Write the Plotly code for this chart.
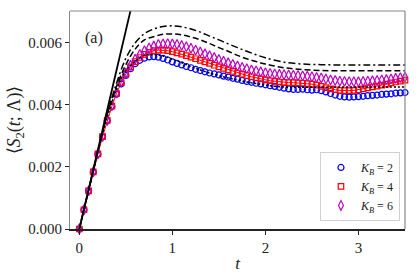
import plotly.graph_objects as go

# ---------------- data ----------------
t_markers = [round(0.05 * i, 2) for i in range(71)]

s2_kb2 = [0, 0.00062, 0.00123, 0.00184, 0.00242, 0.00298, 0.00350, 0.00395, 0.00435, 0.00468,
          0.00495, 0.00517, 0.00533, 0.00544, 0.00551, 0.00555, 0.00556, 0.00554, 0.00550, 0.00545,
          0.00539, 0.00534, 0.00529, 0.00524, 0.00520, 0.00515, 0.00511, 0.00507, 0.00503, 0.00500,
          0.00497, 0.00493, 0.00490, 0.00486, 0.00483, 0.00479, 0.00476, 0.00473, 0.00470, 0.00468,
          0.00465, 0.00462, 0.00460, 0.00457, 0.00454, 0.00452, 0.00450, 0.00450, 0.00451, 0.00449,
          0.00448, 0.00449, 0.00446, 0.00442, 0.00437, 0.00432, 0.00428, 0.00426, 0.00425, 0.00426,
          0.00427, 0.00428, 0.00430, 0.00431, 0.00432, 0.00434, 0.00435, 0.00436, 0.00438, 0.00439,
          0.00440]

s2_kb4 = [0, 0.00062, 0.00123, 0.00184, 0.00242, 0.00298, 0.00350, 0.00396, 0.00437, 0.00472,
          0.00500, 0.00523, 0.00540, 0.00553, 0.00563, 0.00570, 0.00575, 0.00577, 0.00577, 0.00575,
          0.00572, 0.00568, 0.00564, 0.00559, 0.00554, 0.00549, 0.00544, 0.00539, 0.00534, 0.00528,
          0.00523, 0.00518, 0.00513, 0.00508, 0.00503, 0.00499, 0.00495, 0.00491, 0.00487, 0.00484,
          0.00481, 0.00478, 0.00476, 0.00474, 0.00473, 0.00472, 0.00472, 0.00471, 0.00470, 0.00469,
          0.00467, 0.00464, 0.00460, 0.00456, 0.00452, 0.00449, 0.00447, 0.00446, 0.00446, 0.00447,
          0.00449, 0.00452, 0.00455, 0.00458, 0.00461, 0.00464, 0.00467, 0.00471, 0.00474, 0.00477,
          0.00480]

s2_kb6 = [0, 0.00062, 0.00123, 0.00184, 0.00242, 0.00298, 0.00350, 0.00397, 0.00438, 0.00474,
          0.00503, 0.00528, 0.00548, 0.00563, 0.00575, 0.00584, 0.00590, 0.00595, 0.00597, 0.00598,
          0.00597, 0.00595, 0.00592, 0.00588, 0.00583, 0.00577, 0.00571, 0.00565, 0.00559, 0.00553,
          0.00547, 0.00541, 0.00536, 0.00531, 0.00526, 0.00521, 0.00517, 0.00513, 0.00510, 0.00507,
          0.00504, 0.00502, 0.00500, 0.00499, 0.00498, 0.00497, 0.00496, 0.00495, 0.00494, 0.00493,
          0.00491, 0.00489, 0.00487, 0.00484, 0.00481, 0.00479, 0.00477, 0.00476, 0.00475, 0.00475,
          0.00475, 0.00476, 0.00477, 0.00478, 0.00479, 0.00481, 0.00482, 0.00484, 0.00486, 0.00488,
          0.00490]

t_curves = [0, 0.1, 0.2, 0.3, 0.4, 0.5, 0.6, 0.7, 0.8, 0.9, 1.0, 1.1, 1.2, 1.3, 1.4, 1.5,
            1.6, 1.7, 1.8, 1.9, 2.0, 2.2, 2.4, 2.6, 2.8, 3.0, 3.2, 3.5]
s2_dashdot = [0, 0.00125, 0.00250, 0.00370, 0.00470, 0.00550, 0.00600, 0.00630, 0.00645, 0.00653,
              0.00655, 0.00652, 0.00645, 0.00635, 0.00622, 0.00610, 0.00597, 0.00585, 0.00573, 0.00562,
              0.00552, 0.00538, 0.00532, 0.00530, 0.00529, 0.00529, 0.00529, 0.00529]
s2_dashed = [0, 0.00125, 0.00250, 0.00370, 0.00460, 0.00530, 0.00580, 0.00610, 0.00620, 0.00628,
             0.00629, 0.00626, 0.00619, 0.00610, 0.00598, 0.00585, 0.00573, 0.00560, 0.00549, 0.00540,
             0.00532, 0.00520, 0.00514, 0.00511, 0.00510, 0.00510, 0.00510, 0.00510]
s2_dotted = [0, 0.00125, 0.00250, 0.00360, 0.00450, 0.00510, 0.00540, 0.00560, 0.00562, 0.00558,
             0.00548, 0.00536, 0.00524, 0.00513, 0.00503, 0.00494, 0.00487, 0.00480, 0.00474, 0.00469,
             0.00464, 0.00458, 0.00457, 0.00457, 0.00458, 0.00458, 0.00458, 0.00458]

t_linear = [0, 0.6]
s2_linear = [0, 0.00768]

x_ticks = [0, 1, 2, 3]
y_ticks = [0.000, 0.002, 0.004, 0.006]
y_tick_labels = ["0.000", "0.002", "0.004", "0.006"]

FONT = "Liberation Serif"

fig = go.Figure()

# red connecting line (K_B = 4)
fig.add_trace(go.Scatter(x=t_markers, y=s2_kb4, mode="lines",
                         line=dict(color="#ff0000", width=1), showlegend=False,
                         hoverinfo="skip"))

fig.add_trace(go.Scatter(x=t_markers, y=s2_kb2, mode="markers", name="<i>K<sub>B</sub></i> = 2",
                         marker=dict(symbol="circle-open", size=6, color="#0000ff",
                                     line=dict(width=1.2, color="#0000ff")),
                         cliponaxis=False))
fig.add_trace(go.Scatter(x=t_markers, y=s2_kb4, mode="markers", name="<i>K<sub>B</sub></i> = 4",
                         marker=dict(symbol="square-open", size=5.5, color="#ff0000",
                                     line=dict(width=1.2, color="#ff0000")),
                         cliponaxis=False))
fig.add_trace(go.Scatter(x=t_markers, y=s2_kb6, mode="markers", name="<i>K<sub>B</sub></i> = 6",
                         marker=dict(symbol="diamond-tall-open", size=7, color="#bf00bf",
                                     line=dict(width=1.2, color="#bf00bf")),
                         cliponaxis=False))

# black reference curves
fig.add_trace(go.Scatter(x=t_curves, y=s2_dotted, mode="lines", showlegend=False,
                         line=dict(color="black", width=1.5, dash="2px,2px", shape="spline")))
fig.add_trace(go.Scatter(x=t_curves, y=s2_dashed, mode="lines", showlegend=False,
                         line=dict(color="black", width=1.5, dash="6px,3px", shape="spline")))
fig.add_trace(go.Scatter(x=t_curves, y=s2_dashdot, mode="lines", showlegend=False,
                         line=dict(color="black", width=1.5, dash="7px,3px,2px,3px", shape="spline")))
fig.add_trace(go.Scatter(x=t_linear, y=s2_linear, mode="lines", showlegend=False,
                         line=dict(color="black", width=1.8)))

fig.update_layout(
    width=416, height=275,
    margin=dict(l=70, r=11, t=11, b=46, autoexpand=False),
    paper_bgcolor="white", plot_bgcolor="white",
    font=dict(family=FONT, size=15, color="#222"),
    showlegend=True,
    legend=dict(x=0.985, y=0.037, xanchor="right", yanchor="bottom",
                bgcolor="rgba(255,255,255,0.85)", bordercolor="#d0d0d0", borderwidth=1,
                font=dict(family=FONT, size=12, color="#222"),
                itemwidth=30, tracegroupgap=0),
    xaxis=dict(range=[-0.1, 3.5], tickvals=x_ticks, ticks="outside", ticklen=4,
               tickcolor="#222", showgrid=False, zeroline=False, automargin=False,
               showline=True, linecolor="#222", linewidth=1.5,
               title=dict(text="<i>t</i>", standoff=2, font=dict(size=17))),
    yaxis=dict(range=[0, 0.00703], tickvals=y_ticks, ticktext=y_tick_labels,
               ticks="outside", ticklen=4, tickcolor="#222", showgrid=False, zeroline=False,
               automargin=False,
               showline=True, linecolor="#888", linewidth=1.2,
               title=dict(text="⟨<i>S</i><sub>2</sub>(<i>t</i>; Λ)⟩", standoff=2, font=dict(size=18))),
    shapes=[
        dict(type="line", xref="paper", yref="paper", x0=0, x1=1, y0=1, y1=1,
             line=dict(color="#888", width=1.2)),
        dict(type="line", xref="paper", yref="paper", x0=1, x1=1, y0=0, y1=1,
             line=dict(color="#888", width=1.2)),
    ],
    annotations=[
        dict(text="(a)", xref="paper", yref="paper", x=0.04, y=0.875,
             xanchor="left", yanchor="middle", showarrow=False,
             font=dict(family=FONT, size=16, color="#222")),
    ],
)

fig.write_html("out.html", config={"displayModeBar": False},
               post_script="document.body.style.margin='0';document.body.style.padding='0';")
